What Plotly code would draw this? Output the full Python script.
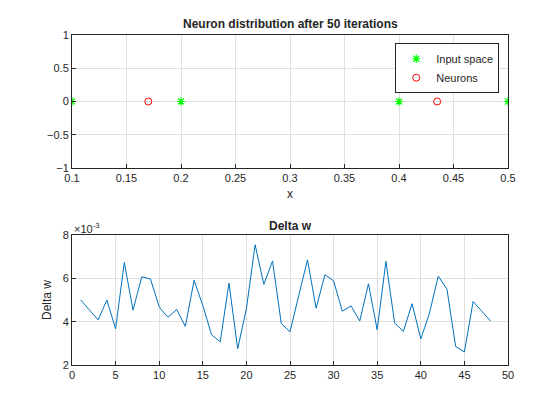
import plotly.graph_objects as go

input_x = [0.1, 0.2, 0.4, 0.5]
input_y = [0, 0, 0, 0]
neuron_x = [0.17, 0.435]
neuron_y = [0, 0]
iters = list(range(1, 49))
delta_w = [5.0, 4.55, 4.08, 5.0, 3.67, 6.73, 4.53, 6.07, 5.97, 4.68, 4.2, 4.56, 3.78, 5.91,
           4.75, 3.4, 3.07, 5.78, 2.75, 4.6, 7.55, 5.72, 6.8, 3.91, 3.53, 5.2, 6.85, 4.62,
           6.17, 5.88, 4.48, 4.73, 4.03, 5.75, 3.62, 6.78, 3.94, 3.55, 4.83, 3.2, 4.4, 6.1,
           5.5, 2.85, 2.6, 4.93, 4.5, 4.03]

fig = go.Figure()
fig.add_trace(go.Scatter(x=input_x, y=input_y, mode="markers", name="Input space",
                         marker=dict(symbol="asterisk-open", size=7, color="#00ff00", line=dict(width=1.2, color="#00ff00")),
                         xaxis="x", yaxis="y"))
fig.add_trace(go.Scatter(x=neuron_x, y=neuron_y, mode="markers", name="Neurons",
                         marker=dict(symbol="circle-open", size=7, color="red", line=dict(width=1, color="red")),
                         xaxis="x", yaxis="y"))
fig.add_trace(go.Scatter(x=iters, y=delta_w, mode="lines", showlegend=False,
                         line=dict(color="#0072bd", width=1), xaxis="x2", yaxis="y2"))

ax = dict(showline=True, mirror=True, linecolor="#262626", linewidth=1, gridcolor="#e0e0e0",
          zeroline=False, ticks="inside", ticklen=4, tickcolor="#262626",
          tickfont=dict(size=11, color="#262626"))
fig.update_layout(
    width=560, height=420, paper_bgcolor="white", plot_bgcolor="white",
    margin=dict(l=64, r=60, t=27, b=63),
    font=dict(family="Liberation Sans, Arial", color="#262626"),
    xaxis=dict(ax, domain=[0, 1], anchor="y", range=[0.1, 0.5], dtick=0.05,
               title=dict(text="x", font=dict(size=12), standoff=6)),
    yaxis=dict(ax, domain=[0.597, 1], anchor="x", range=[-1, 1], dtick=0.5),
    xaxis2=dict(ax, domain=[0, 1], anchor="y2", range=[0, 50], dtick=5),
    yaxis2=dict(ax, domain=[0, 0.394], anchor="x2", range=[2, 8], dtick=2,
                title=dict(text="Delta w", font=dict(size=12), standoff=8)),
    legend=dict(x=0.98, y=0.975, xref="paper", yref="paper", xanchor="right", yanchor="top",
                bordercolor="#262626", borderwidth=1, bgcolor="white", font=dict(size=11),
                tracegroupgap=0),
    annotations=[
        dict(text="<b>Neuron distribution after 50 iterations</b>", x=0.5, y=1.0, xref="paper", yref="paper",
             xanchor="center", yanchor="bottom", showarrow=False, font=dict(size=12), yshift=2),
        dict(text="<b>Delta w</b>", x=0.5, y=0.394, xref="paper", yref="paper",
             xanchor="center", yanchor="bottom", showarrow=False, font=dict(size=12), yshift=0),
        dict(text="×10<sup>-3</sup>", x=0, y=0.394, xref="paper", yref="paper",
             xanchor="left", yanchor="bottom", showarrow=False, font=dict(size=11), yshift=-2),
    ],
)
fig.write_html("out.html")
